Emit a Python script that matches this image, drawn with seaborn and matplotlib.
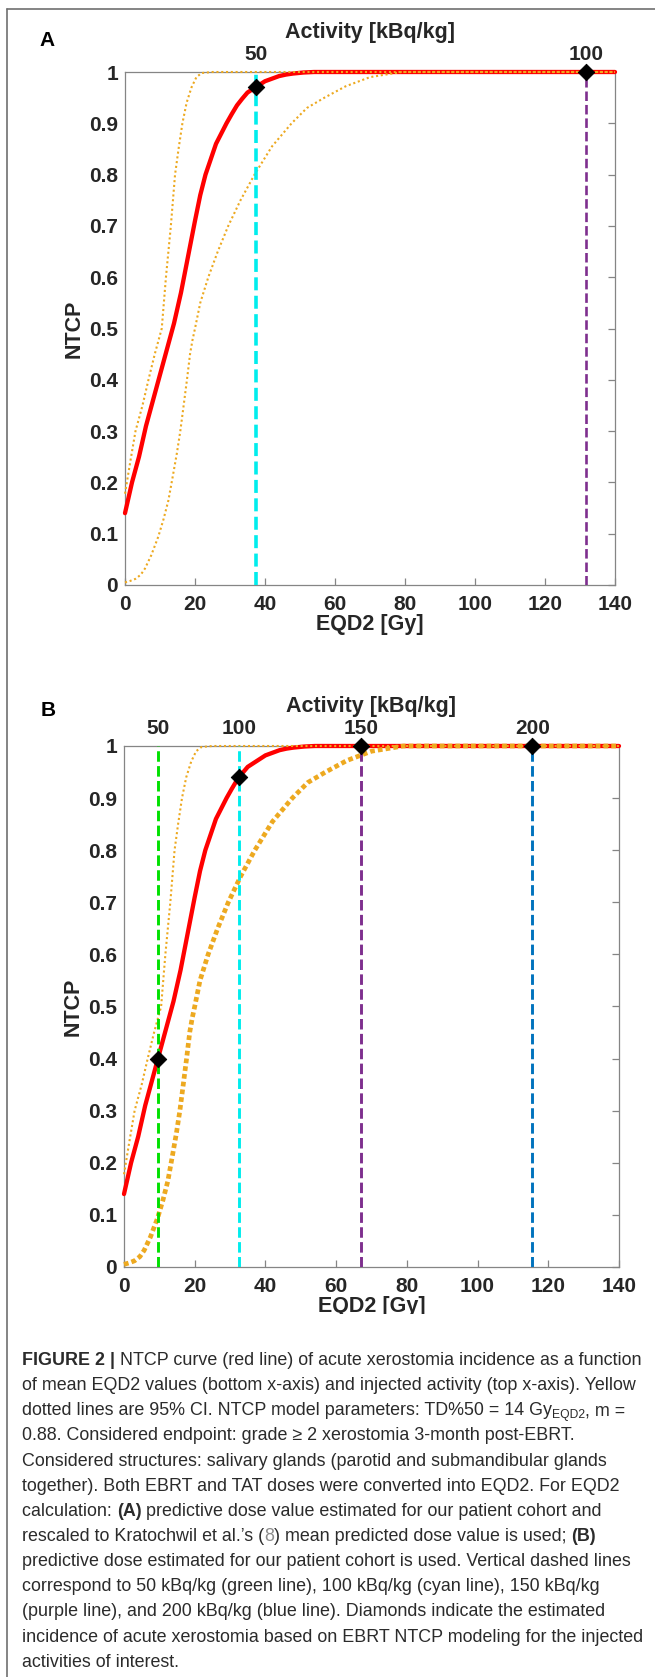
import matplotlib
matplotlib.use("Agg")
import matplotlib.pyplot as plt
from matplotlib.lines import Line2D
from matplotlib.patches import Rectangle
import seaborn as sns

# NTCP curve (same model in both panels)
eqd2_red = [0, 1, 2, 3, 4, 5, 6, 7, 8, 9, 10, 11, 12, 13, 14, 15, 16, 17, 18, 19, 20, 21.5, 23,
            24.5, 26, 27.5, 29, 30.5, 32, 33.5, 35, 37.5, 40, 42, 44, 46, 48, 51, 54, 60, 140]
ntcp_red = [0.14, 0.17, 0.20, 0.225, 0.25, 0.28, 0.31, 0.335, 0.36, 0.385, 0.41, 0.435, 0.46,
            0.485, 0.51, 0.54, 0.57, 0.605, 0.64, 0.675, 0.71, 0.76, 0.80, 0.83, 0.86, 0.88, 0.90,
            0.918, 0.935, 0.948, 0.96, 0.971, 0.982, 0.987, 0.992, 0.995, 0.997, 0.999, 1.0, 1.0,
            1.0]

# 95% CI upper / lower bounds
eqd2_hi = [0, 1.5, 3, 5, 6.7, 8.5, 10.5, 11.1, 11.7, 12.4, 13.1, 13.7, 14.3, 15.3, 16.4, 17.6,
           19, 20.4, 21.9, 25, 140]
ntcp_hi = [0.178, 0.24, 0.30, 0.35, 0.40, 0.45, 0.50, 0.55, 0.60, 0.65, 0.70, 0.75, 0.80, 0.85,
           0.90, 0.94, 0.97, 0.99, 0.998, 1.0, 1.0]
eqd2_lo = [0, 1.5, 3, 4.5, 5.7, 7.5, 9.5, 11, 12.4, 13.6, 14.8, 15.8, 16.7, 17.7, 18.6, 19.3, 20,
           21.5, 23.8, 26.5, 29.5, 33, 37, 42, 47.6, 52, 57, 63, 70, 79, 140]
ntcp_lo = [0.005, 0.008, 0.012, 0.02, 0.032, 0.058, 0.094, 0.128, 0.165, 0.21, 0.256, 0.30, 0.347,
           0.40, 0.451, 0.478, 0.50, 0.55, 0.60, 0.65, 0.70, 0.75, 0.80, 0.855, 0.90, 0.93, 0.95,
           0.972, 0.99, 1.0, 1.0]

# injected activities of interest
act_a = [50, 100]
act_a_eqd2 = [37.5, 131.7]
act_a_ntcp = [0.971, 1.0]
act_b = [50, 100, 150, 200]
act_b_eqd2 = [9.7, 32.5, 67.1, 115.5]
act_b_ntcp = [0.40, 0.94, 1.0, 1.0]

x_ticks = [0, 20, 40, 60, 80, 100, 120, 140]
y_ticks = [0, 0.1, 0.2, 0.3, 0.4, 0.5, 0.6, 0.7, 0.8, 0.9, 1.0]

caption_lines = [
    [("FIGURE 2 | ", "b"), ("NTCP curve (red line) of acute xerostomia incidence as a function", "n")],
    [("of mean EQD2 values (bottom x-axis) and injected activity (top x-axis). Yellow", "n")],
    [("dotted lines are 95% CI. NTCP model parameters: TD%50 = 14 Gy", "n"), ("EQD2", "sub"), (", m =", "n")],
    [("0.88. Considered endpoint: grade \u2265 2 xerostomia 3-month post-EBRT.", "n")],
    [("Considered structures: salivary glands (parotid and submandibular glands", "n")],
    [("together). Both EBRT and TAT doses were converted into EQD2. For EQD2", "n")],
    [("calculation: ", "n"), ("(A)", "b"), (" predictive dose value estimated for our patient cohort and", "n")],
    [("rescaled to Kratochwil et al.\u2019s (", "n"), ("8", "ref"), (") mean predicted dose value is used; ", "n"), ("(B)", "b")],
    [("predictive dose estimated for our patient cohort is used. Vertical dashed lines", "n")],
    [("correspond to 50 kBq/kg (green line), 100 kBq/kg (cyan line), 150 kBq/kg", "n")],
    [("(purple line), and 200 kBq/kg (blue line). Diamonds indicate the estimated", "n")],
    [("incidence of acute xerostomia based on EBRT NTCP modeling for the injected", "n")],
    [("activities of interest.", "n")],
]

RED = "#FF0000"
ORANGE = "#EDA920"
CYAN = "#00EDED"
GREEN = "#00E000"
PURPLE = "#7E2F8E"
BLUE = "#0072BD"
TXT = "#262626"
SPINE = "#858585"

sns.set_theme(style="white")
plt.rcParams["font.family"] = ["Liberation Sans", "DejaVu Sans"]

W, H = 655, 1677
fig = plt.figure(figsize=(W / 100, H / 100), dpi=100)


def fx(px):
    return px / W


def fy(py):
    return 1 - py / H


def panel(ax, hi_lw, lo_lw, lo_dash, acts, act_x, act_y, colors, line_lw):
    sns.lineplot(x=eqd2_red, y=ntcp_red, color=RED, lw=3.1, sort=False, estimator=None,
                 ax=ax, clip_on=False, zorder=3)
    sns.lineplot(x=eqd2_hi, y=ntcp_hi, color=ORANGE, lw=hi_lw, ls=(0, (1, 1.3)), sort=False,
                 estimator=None, ax=ax, clip_on=False, zorder=4)
    sns.lineplot(x=eqd2_lo, y=ntcp_lo, color=ORANGE, lw=lo_lw, ls=(0, lo_dash), sort=False,
                 estimator=None, ax=ax, clip_on=False, zorder=4)
    for xv, c, lw in zip(act_x, colors, line_lw):
        ax.axvline(xv, color=c, lw=lw, ls=(0, (3.6, 1.5)), zorder=5)
    sns.scatterplot(x=act_x, y=act_y, marker="D", s=70, color="black", edgecolor="black",
                    ax=ax, zorder=6, clip_on=False)

    ax.set_xlim(0, 140)
    ax.set_ylim(0, 1)
    ax.set_xticks(x_ticks)
    ax.set_yticks(y_ticks)
    ax.set_yticklabels([f"{v:g}" for v in y_ticks])
    ax.tick_params(direction="in", length=5, width=0.9, color=SPINE, labelcolor=TXT,
                   labelsize=15, right=True, pad=5)
    ax.tick_params(axis="x", pad=7)
    for lab in ax.get_xticklabels() + ax.get_yticklabels():
        lab.set_fontweight("bold")
    for sp in ax.spines.values():
        sp.set_color(SPINE)
        sp.set_linewidth(0.9)
    ax.set_xlabel("EQD2 [Gy]", fontsize=15.5, fontweight="bold", color=TXT, labelpad=0)
    ax.set_ylabel("NTCP", fontsize=15.5, fontweight="bold", color=TXT, labelpad=3)

    top = ax.twiny()
    top.set_xlim(0, 140)
    top.set_xticks(act_x)
    top.set_xticklabels([str(a) for a in acts])
    top.tick_params(axis="x", length=0, labelsize=15, labelcolor=TXT, pad=6)
    for lab in top.get_xticklabels():
        lab.set_fontweight("bold")
    for sp in top.spines.values():
        sp.set_visible(False)
    top.set_xlabel("Activity [kBq/kg]", fontsize=15.5, fontweight="bold", color=TXT, labelpad=5)
    top.grid(False)
    ax.grid(False)


ax_a = fig.add_axes([fx(125), fy(585), (615 - 125) / W, (585 - 72) / H])
panel(ax_a, 1.5, 1.5, (1, 1.3), act_a, act_a_eqd2, act_a_ntcp, [CYAN, PURPLE], [2.6, 1.9])

ax_b = fig.add_axes([fx(124), fy(1267), (619 - 124) / W, (1267 - 746) / H])
panel(ax_b, 1.5, 3.4, (1, 0.65), act_b, act_b_eqd2, act_b_ntcp, [GREEN, CYAN, PURPLE, BLUE],
      [2.1, 2.1, 2.1, 2.1])

fig.text(fx(47), fy(41), "A", fontsize=15, fontweight="bold", color="black", ha="center", va="center")
fig.text(fx(48), fy(711), "B", fontsize=15, fontweight="bold", color="black", ha="center", va="center")

# bottom of the panel B x label is cut off in the source figure
fig.add_artist(Rectangle((fx(250), fy(1332)), 250 / W, 18 / H, transform=fig.transFigure,
                         facecolor="white", edgecolor="none", zorder=10))

# thin frame around the figure
fig.add_artist(Line2D([fx(7), fx(7)], [fy(9), 0], color="#707070", lw=1.2))
fig.add_artist(Line2D([fx(7), 1], [fy(9), fy(9)], color="#707070", lw=1.2))

# caption, drawn run by run so bold parts sit inline
renderer = fig.canvas.get_renderer()
CAP_COL = "#2b2b2b"
probe = fig.text(0, 0, caption_lines[11][0][0], fontsize=12)
cap_size = 12 * 621 / probe.get_window_extent(renderer).width
probe.remove()

base0, step = 1365, 25.15
for i, runs in enumerate(caption_lines):
    x = 22
    yb = base0 + i * step
    for txt, style in runs:
        kw = dict(fontsize=cap_size, color=CAP_COL, ha="left", va="baseline")
        yy = yb
        if style == "b":
            kw["fontweight"] = "bold"
        elif style == "sub":
            kw["fontsize"] = cap_size * 0.68
            yy = yb + 3
        elif style == "ref":
            kw["color"] = "#8c8c8c"
        t = fig.text(fx(x), fy(yy), txt, **kw)
        x += t.get_window_extent(renderer).width

fig.savefig("out.png", dpi=100)
